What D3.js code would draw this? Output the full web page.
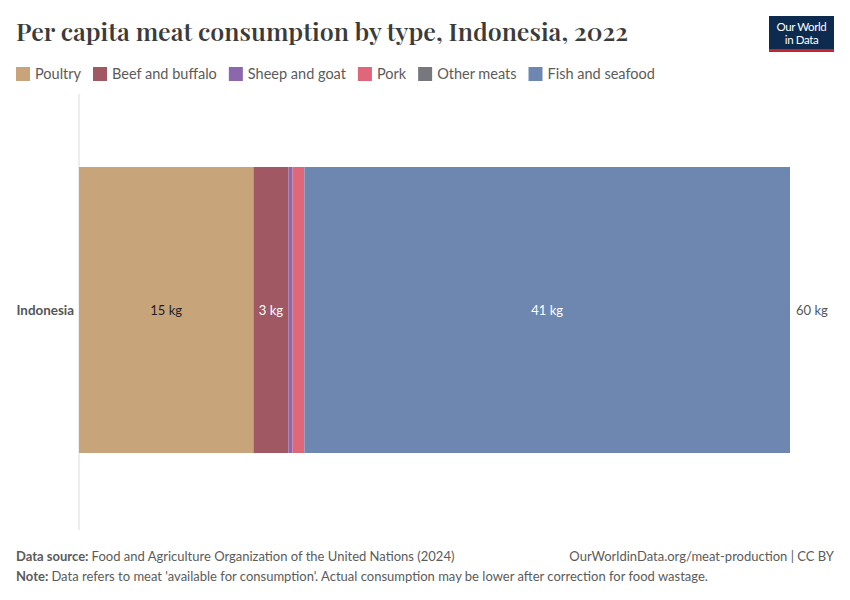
<!DOCTYPE html>
<html>
<head>
<meta charset="utf-8">
<script src="https://cdn.jsdelivr.net/npm/d3@7"></script>
<style>
  body { margin: 0; background: #fff; }
  svg { font-family: Lato, "Noto Sans", sans-serif; }
</style>
</head>
<body>
<svg id="chart" width="850" height="600"></svg>
<script>
// values (kg per person)
const categories = ["Indonesia"];
const types = ["Poultry", "Beef and buffalo", "Sheep and goat", "Pork", "Other meats", "Fish and seafood"];
const values = [14.72, 2.95, 0.35, 0.98, 0.02, 40.98];
const colors = ["#c8a47b", "#a05962", "#8d67ad", "#e0667a", "#77787e", "#6e87b0"];
const totalLabel = "60 kg";

const svg = d3.select("#chart");

// title, sized to the reference width
const title = svg.append("text")
    .attr("x", 16).attr("y", 41)
    .attr("font-family", "'Playfair Display', 'Liberation Serif', 'DejaVu Serif', serif")
    .attr("font-size", 25)
    .attr("font-weight", 600)
    .attr("fill", "#3b3b3b")
    .text("Per capita meat consumption by type, Indonesia, 2022");
const tw = title.node().getComputedTextLength();
title.attr("font-size", 25 * 612 / tw);

// logo
const logo = svg.append("g").attr("transform", "translate(769,16)");
logo.append("rect").attr("width", 65).attr("height", 36).attr("fill", "#0c2b4f");
logo.append("rect").attr("y", 33).attr("width", 65).attr("height", 3).attr("fill", "#c8242f");
logo.append("text").attr("x", 32.5).attr("y", 15).attr("text-anchor", "middle")
    .attr("fill", "#fff").attr("font-size", 11.5).attr("letter-spacing", -0.4).text("Our World");
logo.append("text").attr("x", 32.5).attr("y", 28).attr("text-anchor", "middle")
    .attr("fill", "#fff").attr("font-size", 11.5).attr("letter-spacing", -0.4).text("in Data");

// legend
const legend = svg.append("g").attr("transform", "translate(16,67)");
let lx = 0;
types.forEach((t, i) => {
    const g = legend.append("g").attr("transform", `translate(${lx},0)`);
    g.append("rect").attr("width", 14).attr("height", 14).attr("fill", colors[i]);
    const txt = g.append("text").attr("x", 19).attr("y", 12)
        .attr("font-size", 14.5).attr("fill", "#5b5b5b").text(t);
    lx += 19 + txt.node().getComputedTextLength() + 12;
});

// scales
const x = d3.scaleLinear().domain([0, d3.sum(values)]).range([79, 790]);
const y = d3.scaleBand().domain(categories).range([167, 453]).padding(0);

// axis line
svg.append("line")
    .attr("x1", 79).attr("x2", 79).attr("y1", 94).attr("y2", 530)
    .attr("stroke", "#dcdcdc");

// stacked segments
const stackData = [{ country: categories[0] }];
types.forEach((t, i) => { stackData[0][t] = values[i]; });
const series = d3.stack().keys(types)(stackData);

series.forEach((s, i) => {
    const d = s[0];
    svg.append("rect")
        .attr("x", x(d[0]))
        .attr("y", y(categories[0]))
        .attr("width", Math.max(0, x(d[1]) - x(d[0])))
        .attr("height", y.bandwidth())
        .attr("fill", colors[i]);
});

// segment labels for the big ones
series.forEach((s, i) => {
    const d = s[0];
    const w = x(d[1]) - x(d[0]);
    if (w < 30) return;
    svg.append("text")
        .attr("x", (x(d[0]) + x(d[1])) / 2)
        .attr("y", y(categories[0]) + y.bandwidth() / 2 + 5)
        .attr("text-anchor", "middle")
        .attr("font-size", 13)
        .attr("fill", i === 0 ? "#222" : "#fff")
        .text(Math.round(values[i]) + " kg");
});

// category label
svg.append("text")
    .attr("x", 74).attr("y", y(categories[0]) + y.bandwidth() / 2 + 5)
    .attr("text-anchor", "end")
    .attr("font-size", 13.4).attr("font-weight", "bold").attr("fill", "#555")
    .text(categories[0]);

// total label
svg.append("text")
    .attr("x", x(d3.sum(values)) + 6)
    .attr("y", y(categories[0]) + y.bandwidth() / 2 + 5)
    .attr("font-size", 13).attr("fill", "#555")
    .text(totalLabel);

// footer
const foot = svg.append("g").attr("font-size", 13).attr("fill", "#5b5b5b");
const src = foot.append("text").attr("x", 16).attr("y", 561);
src.append("tspan").attr("font-weight", "bold").text("Data source: ");
src.append("tspan").text("Food and Agriculture Organization of the United Nations (2024)");
foot.append("text").attr("x", 834).attr("y", 561).attr("text-anchor", "end")
    .text("OurWorldinData.org/meat-production | CC BY");
const note = foot.append("text").attr("x", 16).attr("y", 581);
note.append("tspan").attr("font-weight", "bold").text("Note: ");
note.append("tspan").text("Data refers to meat 'available for consumption'. Actual consumption may be lower after correction for food wastage.");
</script>
</body>
</html>
